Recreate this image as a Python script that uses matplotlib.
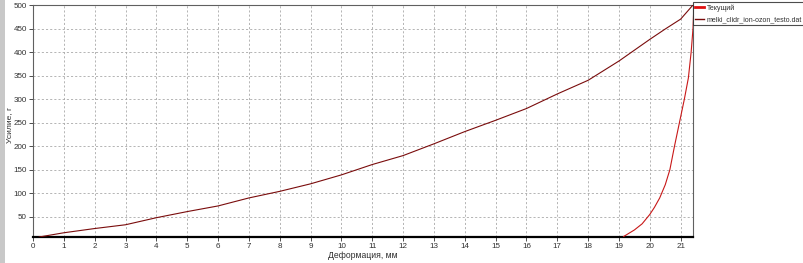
import matplotlib
matplotlib.use("Agg")
import matplotlib.pyplot as plt
from matplotlib.patches import Rectangle

# Data
main_x = [0.2, 1, 2, 3, 4, 5, 6, 7, 8, 9, 10, 11, 12, 13, 13.5, 14, 15, 16, 17, 18, 19, 20, 20.5, 21, 21.4]
main_y = [7, 16, 25, 33, 48, 61, 73, 90, 104, 120, 139, 161, 180, 205, 218, 231, 255, 280, 311, 340, 381, 427, 449, 470, 500]

cur_x = [19.15, 19.5, 19.75, 20.0, 20.15, 20.32, 20.5, 20.65, 20.8, 20.96, 21.12, 21.25, 21.34, 21.4, 21.43]
cur_y = [8, 22, 35, 55, 70, 90, 118, 150, 200, 250, 300, 345, 400, 450, 500]

x_ticks = list(range(0, 22))
y_ticks = list(range(50, 501, 50))

label_cur = "Текущий"
label_main = "melki_clidr_ion-ozon_testo.dat"
x_label = "Деформация, мм"
y_label = "Усилие, г"

plt.rcParams['font.family'] = ['Liberation Sans', 'DejaVu Sans']

fig = plt.figure(figsize=(8.04, 2.63), dpi=100)
fig.patch.set_facecolor('white')
fig.patches.append(Rectangle((0, 0), 5 / 804, 1, transform=fig.transFigure,
                             facecolor='#c8c8c8', edgecolor='none', zorder=0))

ax = fig.add_axes([33 / 804, 26 / 263, 660 / 804, 232 / 263])
l1, = ax.plot(cur_x, cur_y, color='#c81818', lw=0.8, zorder=3)
l2, = ax.plot(main_x, main_y, color='#7a0c0c', lw=0.8, zorder=3)

ax.set_xlim(0, 21.4)
ax.set_ylim(7, 500)
ax.set_xticks(x_ticks)
ax.set_yticks(y_ticks)
ax.tick_params(labelsize=5.8, length=3, width=0.6, colors='#303030', pad=1.5)
ax.grid(True, color='#a8a8a8', linestyle=(0, (2.5, 2.5)), linewidth=0.6)

for s in ['top', 'right', 'left']:
    ax.spines[s].set_color('#606060')
    ax.spines[s].set_linewidth(0.8)
ax.spines['bottom'].set_color('black')
ax.spines['bottom'].set_linewidth(1.6)

fig.text((33 + 693) / 2 / 804, 1 - 255 / 263, x_label, fontsize=6.2,
         ha='center', va='center', color='#303030')
fig.text(10 / 804, 1 - 125 / 263, y_label, fontsize=6, rotation=90,
         ha='center', va='center', color='#303030')

# legend entries: thicker red for current, thin dark red for file
h1 = plt.Line2D([], [], color='#e01010', lw=2)
h2 = plt.Line2D([], [], color='#7a0c0c', lw=1)
leg = fig.legend([h1, h2], [label_cur, label_main], loc='upper left',
                 bbox_to_anchor=(693 / 804, 1 - 2 / 263), fontsize=5.0,
                 frameon=True, fancybox=False, borderpad=0.35, labelspacing=0.6,
                 handlelength=1.3, handletextpad=0.3, borderaxespad=0)
leg.get_frame().set_edgecolor('#202020')
leg.get_frame().set_linewidth(0.8)
for t in leg.get_texts():
    t.set_color('#303030')

fig.savefig('out.png', dpi=100)
